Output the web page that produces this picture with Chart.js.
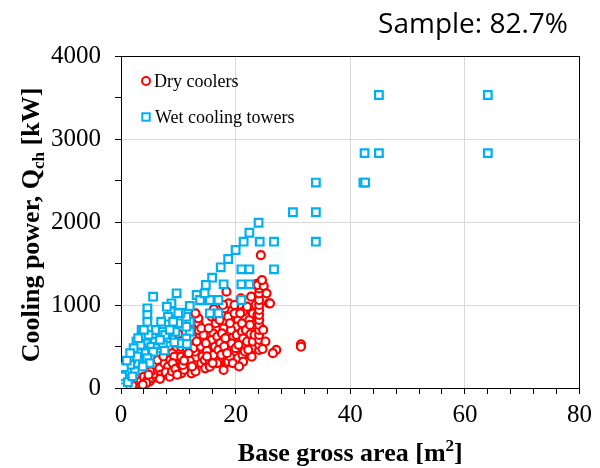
<!DOCTYPE html>
<html>
<head>
<meta charset="utf-8">
<title>Cooling power vs base gross area</title>
<script src="https://cdn.jsdelivr.net/npm/chart.js@4.4.1/dist/chart.umd.min.js"></script>
<style>
  html, body { margin: 0; padding: 0; background: #fff; }
  #wrap { width: 600px; height: 468px; }
</style>
</head>
<body>
<div id="wrap"><canvas id="coolChart" width="600" height="468"></canvas></div>
<script>
// dry coolers: base gross area [m2] / cooling power [kW]
const dryArea = [
  0.3, 0.6, 1.0, 1.4, 1.8, 2.2, 2.6, 3.0, 2.4, 1.2, 2.0, 3.2,
  3.5, 4.0, 4.6, 5.0, 5.5, 6.1, 4.4, 5.8, 3.8, 5.2, 4.8,
  6.4, 6.1, 6.7, 6.4, 7.6, 8.2, 7.0, 7.8, 6.8, 8.5, 7.4, 8.9, 8.6, 9.0,
  9.7, 10.0, 10.2, 9.3, 9.0, 9.5, 10.5, 10.5, 10.5, 10.5, 9.8, 11.0, 10.8,
  11.5, 11.5, 11.5, 12.8, 12.3, 13.8, 12.9, 13.8, 13.5, 13.5, 13.5, 12.0, 12.5, 13.0, 14.0, 14.2, 12.2,
  12.6, 13.2, 14.4, 14.0, 11.8, 11.0, 12.4, 13.0,
  14.7, 14.6, 15.5, 16.1, 16.1, 15.8, 16.4, 15.5, 15.0, 15.3, 16.5, 16.8, 14.8, 15.8, 16.2,
  15.0, 16.0, 16.8, 17.3, 17.0, 16.6,
  17.9, 18.4, 18.7, 19.6, 19.3, 19.6, 20.4, 20.1, 17.9, 17.6, 18.7, 18.1, 18.4, 17.5, 18.0, 19.0, 19.2, 19.8, 17.2, 18.8,
  18.2, 18.5, 19.0, 19.5, 20.0, 20.2, 19.8, 17.8,
  21.1, 21.3, 21.1, 21.1, 21.3, 21.1, 21.2, 21.3, 20.6, 20.9, 21.6, 22.0, 22.4, 21.8, 20.5, 20.8,
  22.8, 23.6, 23.0, 22.6, 23.2, 23.5, 23.4, 22.2, 22.5, 22.0, 23.0, 23.3, 22.7, 23.8,
  24.1, 24.1, 24.1, 24.1, 24.1, 24.1, 24.1, 24.1, 24.1, 24.1, 24.1, 24.1, 24.1, 24.1,
  24.4, 23.9, 24.9, 25.4, 25.8, 26.0, 24.6, 24.8, 25.2, 24.7,
  27.1, 26.5, 31.4, 31.4
];
const dryPower = [
  10, 20, 25, 40, 50, 60, 75, 50, 76, 36, 30, 120,
  90, 136, 96, 80, 120, 136, 60, 170, 40, 200, 160,
  217, 277, 237, 337, 297, 257, 160, 190, 110, 136, 380, 200, 340, 420,
  497, 651, 377, 377, 300, 230, 177, 277, 377, 497, 160, 220, 277,
  377, 578, 478, 277, 177, 497, 437, 618, 699, 779, 839, 330, 600, 200, 300, 380, 700,
  480, 560, 640, 720, 420, 330, 260, 900,
  237, 337, 317, 398, 659, 578, 497, 257, 450, 720, 780, 300, 540, 860, 950,
  380, 300, 620, 540, 460, 860,
  217, 305, 317, 618, 538, 437, 819, 739, 719, 659, 859, 960, 1160, 400, 500, 380, 700, 900, 820, 1020,
  600, 420, 780, 300, 480, 640, 1000, 1000,
  980, 919, 779, 678, 598, 497, 398, 317, 260, 1080, 440, 560, 819, 700, 520, 900,
  377, 1253, 900, 650, 480, 1000, 760, 460, 760, 980, 560, 640, 1100, 880,
  458, 520, 580, 640, 700, 760, 820, 880, 940, 1000, 1060, 1141, 1200, 1265,
  1600, 1240, 1229, 1141, 1020, 1020, 1300, 700, 560, 470,
  460, 420, 527, 497
];

// wet cooling towers
const wetArea = [
  64, 45, 64, 45, 42.5, 42.3, 42.6, 34, 30, 34, 34,
  24.0, 22.4, 21.4, 20.0, 18.7, 17.4, 15.9, 14.8, 13.2,
  24.2, 26.7, 21.0, 22.4, 26.7, 21.0, 22.4, 17.9,
  21.0, 15.5, 17.0, 13.8, 14.6, 15.5, 17.0, 12.0, 12.0, 12.0,
  11.4, 11.4, 11.4, 10.2, 10.4, 9.7, 8.8, 8.8, 8.2, 10.0, 10.0, 9.1, 7.0, 9.5,
  5.6, 4.6, 4.6, 4.6, 8.0, 6.1, 7.3, 8.0, 3.6, 3.6, 2.7, 4.4, 5.9, 5.3, 6.4, 7.3,
  3.6, 2.7, 4.1, 5.6, 2.1, 3.2, 1.2, 4.6, 1.8, 0.9, 0.3, 0.1, 0.2, 0.5, 0.8, 1.0, 0.3,
  1.5, 2.2, 1.4, 0.6, 2.6, 3.0, 1.8, 2.4, 7.7, 9.3, 11.5, 8.5, 6.8, 7.6, 4.8, 5.0, 3.8,
  0.4, 0.7, 1.1, 1.6, 0.2, 1.2, 2.0, 0.5, 1.0, 2.8, 3.4, 2.2, 1.6, 4.0, 3.0
];
const wetPower = [
  3530, 3530, 2830, 2830, 2830, 2475, 2475, 2475, 2117, 2117, 1763,
  1991, 1871, 1763, 1663, 1554, 1454, 1329, 1241, 1120,
  1763, 1763, 1430, 1430, 1430, 1249, 1249, 1249,
  1060, 1060, 1060, 1060, 1141, 900, 900, 988, 799, 678,
  859, 739, 598, 538, 907, 1141, 1020, 919, 859, 900, 779, 799, 799, 678,
  1100, 960, 880, 799, 980, 699, 678, 598, 699, 618, 558, 538, 558, 497, 478, 518,
  478, 437, 418, 437, 377, 337, 317, 358, 257, 217, 157, 96, 60, 40, 80, 30, 20,
  160, 240, 110, 130, 300, 420, 350, 200, 640, 550, 530, 700, 580, 450, 640, 300, 260,
  100, 170, 200, 280, 140, 70, 140, 250, 330, 380, 520, 480, 420, 700, 600
];

const xTicks = [0, 20, 40, 60, 80];
const yTicks = [0, 1000, 2000, 3000, 4000];

const RED = '#ff0000';
const BLUE = '#00b0f0';
const SERIF = '"Liberation Serif", "Times New Roman", serif';

const toPoints = (xs, ys) => xs.map((x, i) => ({ x: x, y: ys[i] }));

// mixed-size text runs (sub/superscripts), centred on x
function drawRuns(ctx, runs, x, y) {
  let total = 0;
  runs.forEach(r => { ctx.font = r.font; r.w = ctx.measureText(r.t).width; total += r.w; });
  let cx = x - total / 2;
  runs.forEach(r => {
    ctx.font = r.font;
    ctx.fillText(r.t, cx, y + (r.dy || 0));
    cx += r.w;
  });
}

const decor = {
  id: 'decor',
  afterDraw(chart) {
    const { ctx, chartArea: a } = chart;
    ctx.save();
    ctx.fillStyle = '#000';
    ctx.textBaseline = 'alphabetic';

    // header
    ctx.font = '28px "Open Sans", sans-serif';
    ctx.textAlign = 'right';
    ctx.fillText('Sample: 82.7%', 568, 33);
    ctx.textAlign = 'left';

    // x axis title
    const bold = 'bold 26px ' + SERIF;
    const small = 'bold 17px ' + SERIF;
    drawRuns(ctx, [
      { t: 'Base gross area [m', font: bold },
      { t: '2', font: small, dy: -10 },
      { t: ']', font: bold }
    ], (a.left + a.right) / 2, 461);

    // y axis title, rotated
    ctx.save();
    ctx.translate(39, (a.top + a.bottom) / 2 + 3);
    ctx.rotate(-Math.PI / 2);
    drawRuns(ctx, [
      { t: 'Cooling power, Q', font: bold },
      { t: 'ch', font: small, dy: 5 },
      { t: ' [kW]', font: bold }
    ], 0, 0);
    ctx.restore();

    // legend in the upper left corner of the plot
    ctx.lineWidth = 2;
    ctx.fillStyle = '#fff';
    ctx.strokeStyle = RED;
    ctx.beginPath();
    ctx.arc(146, 81, 4, 0, Math.PI * 2);
    ctx.fill();
    ctx.stroke();
    ctx.strokeStyle = BLUE;
    ctx.fillRect(142.3, 113.3, 7.4, 7.4);
    ctx.strokeRect(142.3, 113.3, 7.4, 7.4);

    ctx.fillStyle = '#000';
    ctx.font = '18px ' + SERIF;
    ctx.textBaseline = 'middle';
    ctx.fillText('Dry coolers', 154, 82);
    ctx.fillText('Wet cooling towers', 155, 118);
    ctx.restore();
  }
};

// grid only on labelled ticks; top/right edges black so the plot is boxed
function gridColor(step, last) {
  return c => {
    const v = c.tick ? c.tick.value : null;
    if (v === last) return '#000';
    if (v !== null && v > 0 && v % step === 0) return '#d9d9d9';
    return 'rgba(0,0,0,0)';
  };
}

new Chart(document.getElementById('coolChart'), {
  type: 'scatter',
  data: {
    datasets: [
      {
        label: 'Dry coolers',
        data: toPoints(dryArea, dryPower),
        pointStyle: 'circle',
        pointRadius: 4,
        borderWidth: 2.2,
        borderColor: RED,
        backgroundColor: '#fff',
        order: 2
      },
      {
        label: 'Wet cooling towers',
        data: toPoints(wetArea, wetPower),
        pointStyle: 'rect',
        pointRadius: 5.4,
        borderWidth: 2.2,
        borderColor: BLUE,
        backgroundColor: '#fff',
        order: 1
      }
    ]
  },
  options: {
    responsive: false,
    animation: false,
    layout: { padding: { top: 56, right: 20.5, bottom: 0, left: 0 } },
    plugins: {
      legend: { display: false },
      tooltip: { enabled: false }
    },
    scales: {
      x: {
        type: 'linear',
        min: 0,
        max: 80,
        afterFit: s => { s.height = 80; },
        border: { color: '#000', width: 1 },
        grid: { color: gridColor(20, 80), tickColor: '#000', tickLength: 6 },
        ticks: {
          stepSize: 4,
          autoSkip: false,
          maxRotation: 0,
          padding: 6,
          color: '#000',
          font: { family: SERIF, size: 25 },
          callback: v => xTicks.includes(v) ? v : ''
        }
      },
      y: {
        type: 'linear',
        min: 0,
        max: 4000,
        afterFit: s => { s.width = 121; },
        border: { color: '#000', width: 1 },
        grid: { color: gridColor(1000, 4000), tickColor: '#000', tickLength: 6 },
        ticks: {
          stepSize: 500,
          autoSkip: false,
          padding: 14,
          color: '#000',
          font: { family: SERIF, size: 25 },
          callback: v => yTicks.includes(v) ? v : ''
        }
      }
    }
  },
  plugins: [decor]
});
</script>
</body>
</html>
